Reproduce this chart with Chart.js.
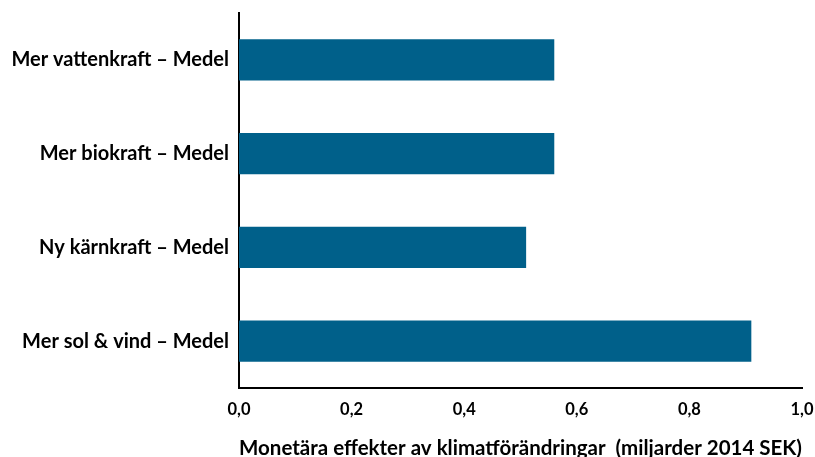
<!DOCTYPE html>
<html>
<head>
<meta charset="utf-8">
<script src="https://cdn.jsdelivr.net/npm/chart.js@4/dist/chart.umd.min.js"></script>
<style>
  html, body { margin: 0; padding: 0; background: #ffffff; }
  #wrap { width: 815px; height: 457px; position: relative; }
</style>
</head>
<body>
<div id="wrap"><canvas id="c" width="815" height="457"></canvas></div>
<script>
// Scenario labels (top to bottom) and their monetary effects, billion SEK (2014)
const categories = [
  'Mer vattenkraft – Medel',
  'Mer biokraft – Medel',
  'Ny kärnkraft – Medel',
  'Mer sol & vind – Medel'
];
const effects = [0.56, 0.56, 0.51, 0.91];
const xTickValues = [0, 0.2, 0.4, 0.6, 0.8, 1.0];
const xTitle = 'Monetära effekter av klimatförändringar  (miljarder 2014 SEK)';

const FONT = 'Lato, "Open Sans", sans-serif';

new Chart(document.getElementById('c'), {
  type: 'bar',
  data: {
    labels: categories,
    datasets: [{
      data: effects,
      backgroundColor: '#00608A',
      borderWidth: 0,
      categoryPercentage: 0.44,
      barPercentage: 1.0
    }]
  },
  options: {
    indexAxis: 'y',
    responsive: false,
    animation: false,
    layout: { padding: { top: 13, right: 0, left: 0, bottom: 0 } },
    plugins: { legend: { display: false }, tooltip: { enabled: false } },
    scales: {
      x: {
        min: 0,
        max: 1.0,
        afterBuildTicks: (scale) => { scale.ticks = xTickValues.map(v => ({ value: v })); },
        afterFit: (scale) => {
          scale.height = 69;
          scale.paddingLeft = 0;
          scale.paddingRight = 13;
        },
        grid: { display: false, drawTicks: false },
        border: { display: true, color: '#000000', width: 2 },
        ticks: {
          color: '#000000',
          padding: 12,
          font: { family: FONT, size: 16.5, weight: 'bold' },
          callback: (v) => Number(v).toFixed(1).replace('.', ',')
        },
        title: {
          display: true,
          text: xTitle,
          color: '#000000',
          font: { family: FONT, size: 20.5, weight: 'bold' },
          padding: { top: 16, bottom: -4 }
        }
      },
      y: {
        afterFit: (scale) => {
          scale.width = 239;
          scale.paddingTop = 0;
          scale.paddingBottom = 0;
        },
        grid: { display: false, drawTicks: false },
        border: { display: true, color: '#000000', width: 2 },
        ticks: {
          color: '#000000',
          padding: 10,
          font: { family: FONT, size: 20, weight: 'bold' }
        }
      }
    }
  }
});
</script>
</body>
</html>
